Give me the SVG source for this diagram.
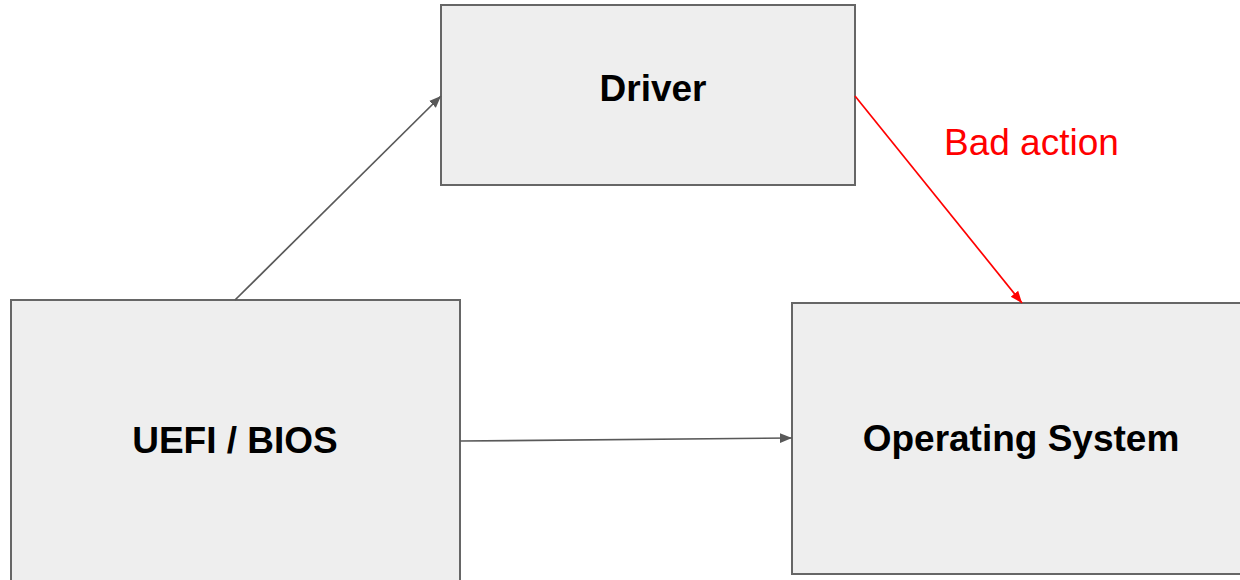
<svg xmlns="http://www.w3.org/2000/svg" width="1240" height="580" viewBox="0 0 1240 580">
<style>
.box{fill:#eeeeee;stroke:#666666;stroke-width:2}
.lbl{font-family:"Liberation Sans",Arial,sans-serif;font-weight:bold;font-size:37px;fill:#000;text-anchor:middle}
.conn{fill:none;stroke:#595959;stroke-width:1.7}
.bad{fill:none;stroke:#ff0000;stroke-width:1.7}
.note{font-family:"Liberation Sans",Arial,sans-serif;font-size:37px;fill:#ff0000}
</style>
<defs>
<marker id="ag" viewBox="0 0 10 10" refX="10" refY="5" markerWidth="12" markerHeight="12" markerUnits="userSpaceOnUse" orient="auto"><path d="M0,1 L10,5 L0,9 Z" fill="#595959"/></marker>
<marker id="ar" viewBox="0 0 10 10" refX="10" refY="5" markerWidth="12" markerHeight="12" markerUnits="userSpaceOnUse" orient="auto"><path d="M0,1 L10,5 L0,9 Z" fill="#ff0000"/></marker>
</defs>
<rect width="1240" height="580" fill="#ffffff"/>
<g id="driver">
<rect class="box" x="441" y="5" width="414" height="180"/>
<text class="lbl" x="653" y="101">Driver</text>
</g>
<g id="uefi">
<rect class="box" x="11" y="300" width="449" height="290"/>
<text class="lbl" x="235" y="453">UEFI / BIOS</text>
</g>
<g id="os">
<rect class="box" x="792" y="303" width="460" height="271"/>
<text class="lbl" x="1021" y="451">Operating System</text>
</g>
<g id="connectors">
<line class="conn" x1="235" y1="300" x2="441" y2="96" marker-end="url(#ag)"/>
<line class="conn" x1="460" y1="441" x2="792" y2="438" marker-end="url(#ag)"/>
<line class="bad" x1="855" y1="96" x2="1022" y2="303" marker-end="url(#ar)"/>
<text class="note" x="944" y="155">Bad action</text>
</g>
</svg>
